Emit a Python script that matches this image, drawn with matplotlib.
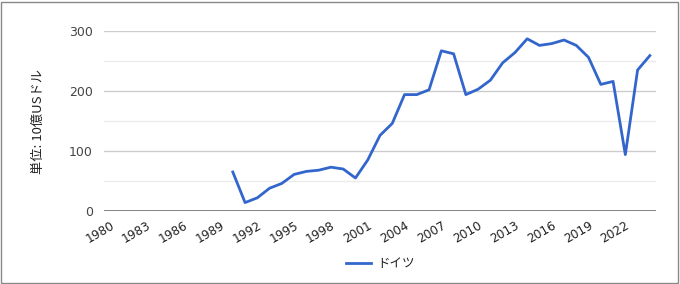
import matplotlib
matplotlib.use("Agg")
import matplotlib.pyplot as plt
from matplotlib.patches import Rectangle
from matplotlib.lines import Line2D

plt.rcParams['font.family'] = ['DejaVu Sans', 'Noto Sans CJK JP']

years = list(range(1980, 2025))
germany = [None]*10 + [65, 14, 22, 38, 46, 61, 66, 68, 73, 70,
                       55, 85, 126, 146, 194, 194, 202, 267, 262, 194,
                       203, 218, 247, 264, 287, 276, 279, 285, 276, 256,
                       211, 216, 94, 235, 259]
series_name = "ドイツ"
y_label = "単位: 10億USドル"
x_ticks = list(range(1980, 2023, 3))
y_ticks = [0, 100, 200, 300]

cjk = ['Noto Sans CJK JP', 'DejaVu Sans']
color = "#3366cc"
fig = plt.figure(figsize=(6.8, 2.84), dpi=100)
ax = fig.add_axes([104/680, 1-211/284, 552/680, 180/284])

xs = [y for y, v in zip(years, germany) if v is not None]
vs = [v for v in germany if v is not None]
ax.plot(xs, vs, color=color, lw=2, solid_joinstyle='round', zorder=3)

ax.set_xlim(1979.5, 2024.5)
ax.set_ylim(0, 300)
for v in [50, 150, 250]:
    ax.axhline(v, color="#ebebeb", lw=1, zorder=1)
for v in [100, 200, 300]:
    ax.axhline(v, color="#cccccc", lw=1, zorder=1)
ax.axhline(0, color="#777777", lw=2, zorder=2)

ax.set_yticks(y_ticks)
ax.set_yticklabels([str(v) for v in y_ticks], color="#444444", fontsize=9)
ax.set_xticks(x_ticks)
ax.set_xticklabels([str(v) for v in x_ticks], rotation=30, ha='right',
                   rotation_mode='anchor', color="#222222", fontsize=8.7)
ax.tick_params(axis='both', length=0)
ax.tick_params(axis='y', pad=8)
ax.tick_params(axis='x', pad=6)
for s in ax.spines.values():
    s.set_visible(False)
ax.set_ylabel(y_label, fontsize=9.5, color="#222222", labelpad=17, family=cjk)

fig.add_artist(Line2D([346/680, 371/680], [1-263/284]*2, color=color, lw=2,
                      transform=fig.transFigure))
fig.text(377/680, 1-263/284, series_name, fontsize=9, color="#222222",
         va='center', ha='left', family=cjk)

fig.add_artist(Rectangle((1/680, 1/284), 677/680, 281/284, fill=False,
                         edgecolor="#888888", lw=1, transform=fig.transFigure))

fig.savefig("out.png", dpi=100)
